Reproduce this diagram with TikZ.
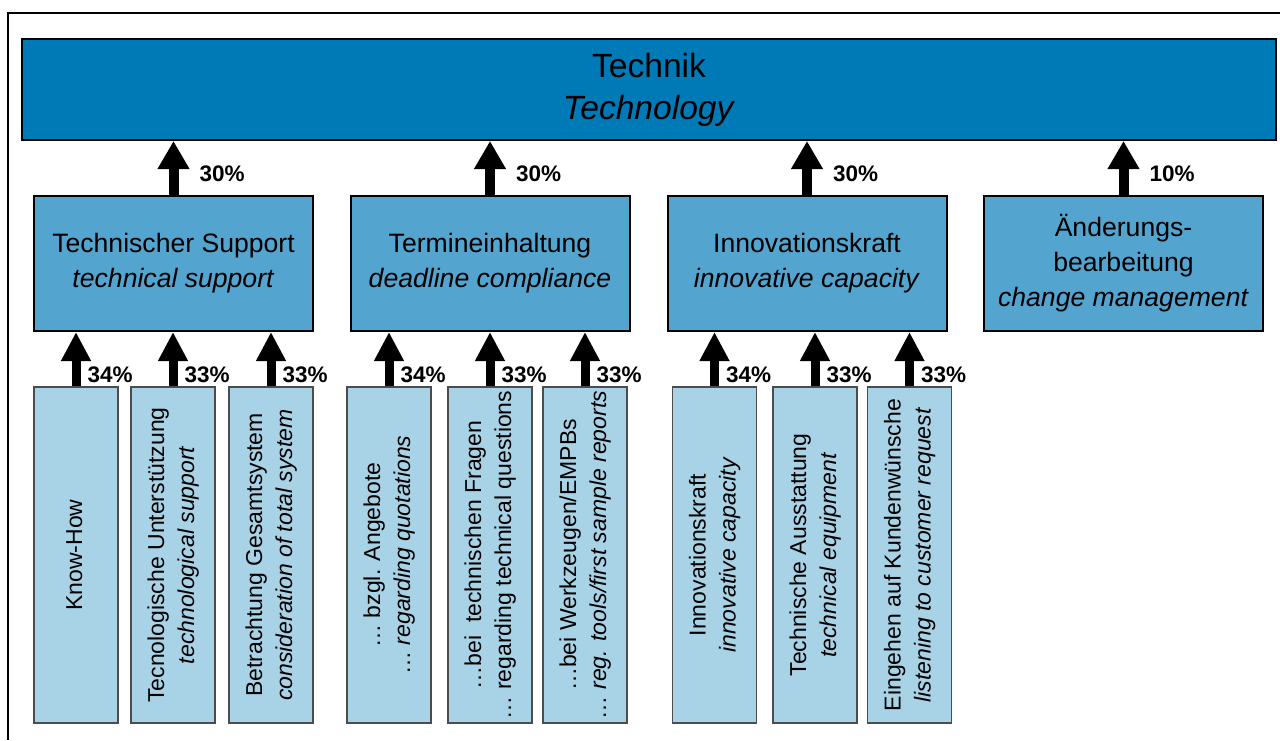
\documentclass[tikz,border=0pt]{standalone}
\usepackage{fontspec}
\setmainfont{Liberation Sans}
\usepackage{tikz}
\usetikzlibrary{arrows.meta}
\usepackage{graphicx,color}

\definecolor{techdark}{RGB}{0,122,182}
\definecolor{techmid}{RGB}{83,164,207}
\definecolor{techlight}{RGB}{168,210,230}

\newcommand{\leaftext}[1]{\rotatebox{90}{\begin{tabular}{@{}c@{}}#1\end{tabular}}}

\begin{document}
\begin{tikzpicture}[x=0.5pt,y=-0.5pt,
		topbox/.style={draw=black,line width=1pt,fill=techdark,align=center,inner sep=0pt,minimum width=627pt,minimum height=50.5pt,font=\fontsize{16.8pt}{21pt}\selectfont},
		subbox/.style={draw=black,line width=1pt,fill=techmid,align=center,inner sep=0pt,minimum width=139.5pt,minimum height=67.5pt,font=\fontsize{13.3pt}{17.5pt}\selectfont},
		leafbox/.style={draw=black!70,line width=0.6pt,fill=techlight,inner sep=0pt,minimum width=42pt,minimum height=168pt,font=\fontsize{11.5pt}{15pt}\selectfont},
		bigarrow/.style={line width=5pt,-{Triangle[width=15pt,length=14pt]}},
		midarrow/.style={line width=4.5pt,-{Triangle[width=14pt,length=14.5pt]}},
		pct/.style={font=\fontsize{11.25pt}{13pt}\selectfont\bfseries,inner sep=0pt}]
		\useasboundingbox (0,0) rectangle (1280,740);
		\draw[line width=1pt] (8,740) -- (8,13) -- (1280,13);

		\node[topbox] (tech) at (649,89.5) {Technik\\\textit{Technology}};

		\node[subbox] (ts) at (173.5,263.5) {Technischer Support\\\textit{technical support}};
		\node[subbox] (dc) at (490,263.5)   {Termineinhaltung\\\textit{deadline compliance}};
		\node[subbox] (ic) at (807,263.5)   {Innovationskraft\\\textit{innovative capacity}};
		\node[subbox] (cm) at (1123.5,263.5) {Änderungs-\\bearbeitung\\\textit{change management}};

		\draw[bigarrow] (ts.north) -- (ts.north |- tech.south) node[pct,at start,anchor=base west,xshift=10.5pt,yshift=7pt] {30\%};
		\draw[bigarrow] (dc.north) -- (dc.north |- tech.south) node[pct,at start,anchor=base west,xshift=10.5pt,yshift=7pt] {30\%};
		\draw[bigarrow] (ic.north) -- (ic.north |- tech.south) node[pct,at start,anchor=base west,xshift=10.5pt,yshift=7pt] {30\%};
		\draw[bigarrow] (cm.north) -- (cm.north |- tech.south) node[pct,at start,anchor=base west,xshift=10.5pt,yshift=7pt] {10\%};

		\node[leafbox] (kh)  at (76,555)    {\leaftext{Know-How}};
		\node[leafbox] (tu)  at (173,555)   {\leaftext{Tecnologische Unterstützung\\\textit{technological support}}};
		\node[leafbox] (gs)  at (271,555)   {\leaftext{Betrachtung Gesamtsystem\\\textit{consideration of total system}}};

		\node[leafbox] (ang) at (389,555)   {\leaftext{… bzgl. Angebote\\… \textit{regarding quotations}}};
		\node[leafbox] (tf)  at (490,555)   {\leaftext{…bei~ technischen Fragen\\… regarding technical questions}};
		\node[leafbox] (wz)  at (585,555)   {\leaftext{…bei Werkzeugen/EMPBs\\… \textit{reg. tools/first sample reports}}};

		\node[leafbox] (ik)  at (714.5,555) {\leaftext{Innovationskraft\\\textit{innovative capacity}}};
		\node[leafbox] (ta)  at (815,555)   {\leaftext{Technische Ausstattung\\\textit{technical equipment}}};
		\node[leafbox] (kw)  at (909.5,555) {\leaftext{Eingehen auf Kundenwünsche\\\textit{listening to customer request}}};

		\draw[midarrow] (kh.north)  -- (kh.north |- ts.south)  node[pct,at start,anchor=base west,xshift=3.5pt,yshift=2pt] {34\%};
		\draw[midarrow] (tu.north)  -- (tu.north |- ts.south)  node[pct,at start,anchor=base west,xshift=3.5pt,yshift=2pt] {33\%};
		\draw[midarrow] (gs.north)  -- (gs.north |- ts.south)  node[pct,at start,anchor=base west,xshift=3.5pt,yshift=2pt] {33\%};
		\draw[midarrow] (ang.north) -- (ang.north |- dc.south) node[pct,at start,anchor=base west,xshift=3.5pt,yshift=2pt] {34\%};
		\draw[midarrow] (tf.north)  -- (tf.north |- dc.south)  node[pct,at start,anchor=base west,xshift=3.5pt,yshift=2pt] {33\%};
		\draw[midarrow] (wz.north)  -- (wz.north |- dc.south)  node[pct,at start,anchor=base west,xshift=3.5pt,yshift=2pt] {33\%};
		\draw[midarrow] (ik.north)  -- (ik.north |- ic.south)  node[pct,at start,anchor=base west,xshift=3.5pt,yshift=2pt] {34\%};
		\draw[midarrow] (ta.north)  -- (ta.north |- ic.south)  node[pct,at start,anchor=base west,xshift=3.5pt,yshift=2pt] {33\%};
		\draw[midarrow] (kw.north)  -- (kw.north |- ic.south)  node[pct,at start,anchor=base west,xshift=3.5pt,yshift=2pt] {33\%};
	\end{tikzpicture}
\end{document}
